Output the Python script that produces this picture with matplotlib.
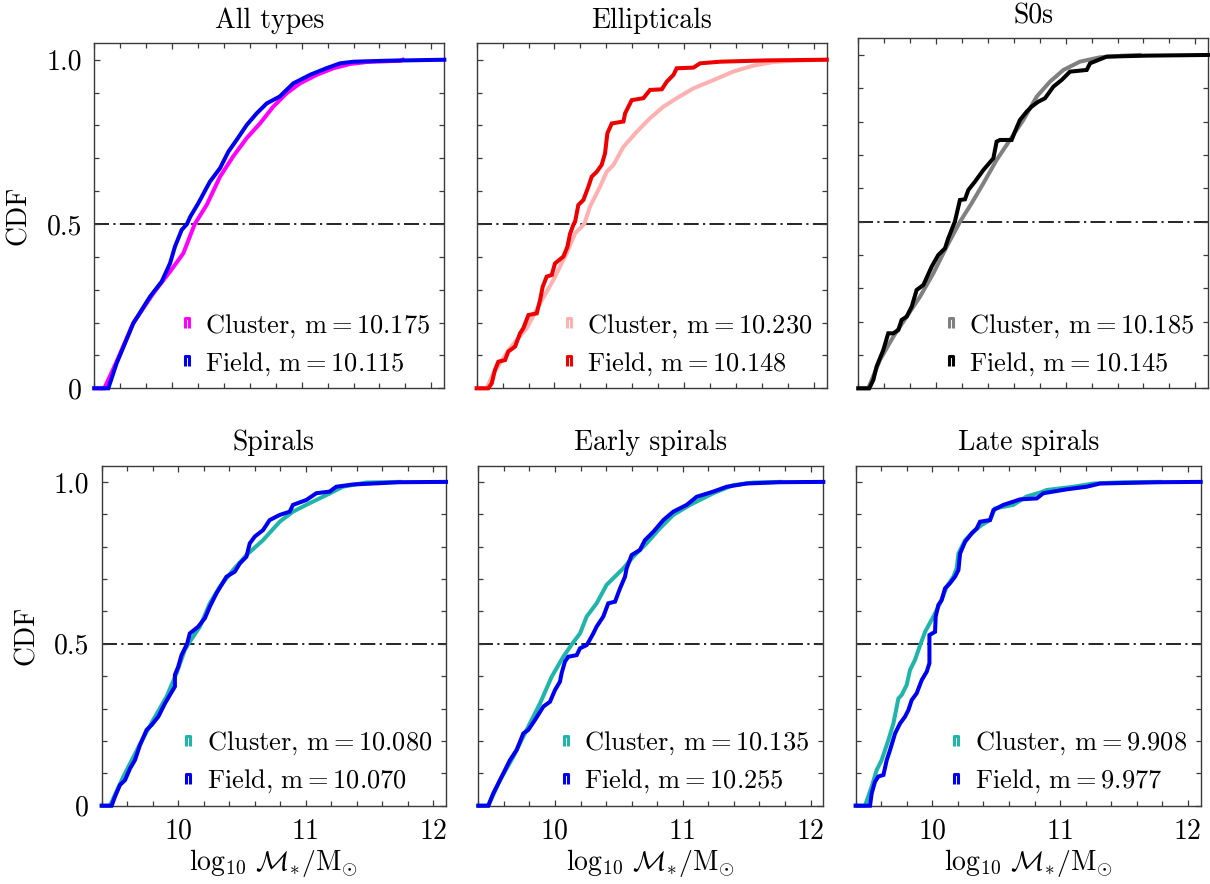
import matplotlib
matplotlib.use("Agg")
import matplotlib.pyplot as plt
from matplotlib.lines import Line2D
from matplotlib.path import Path
from matplotlib.ticker import MultipleLocator, FixedLocator

plt.rcParams.update({
    "font.family": "serif",
    "font.serif": ["cmr10"],
    "mathtext.fontset": "cm",
    "axes.unicode_minus": False,
    "axes.formatter.use_mathtext": True,
    "font.size": 19,
})

# ---------------------------------------------------------------- data
panel_titles = ["All types", "Ellipticals", "S0s", "Spirals", "Early spirals", "Late spirals"]

# All types
all_cl_mass = [9.40, 9.477, 9.572, 9.70, 9.855, 9.984, 10.087, 10.175, 10.267, 10.37, 10.47, 10.575,
               10.678, 10.78, 10.884, 10.987, 11.116, 11.244, 11.373, 11.50, 11.76, 11.78]
all_cl_cdf = [0.0, 0.0, 0.081, 0.198, 0.289, 0.355, 0.411, 0.50, 0.558, 0.644, 0.705, 0.761,
              0.806, 0.857, 0.898, 0.928, 0.954, 0.974, 0.987, 0.993, 0.997, 1.0]
all_fd_mass = [9.40, 9.508, 9.572, 9.701, 9.83, 9.92, 9.984, 10.022, 10.074, 10.115, 10.14, 10.202,
               10.292, 10.37, 10.434, 10.498, 10.575, 10.653, 10.73, 10.83, 10.935, 11.064, 11.19,
               11.296, 11.40, 11.656, 12.10]
all_fd_cdf = [0.0, 0.0, 0.076, 0.198, 0.279, 0.325, 0.380, 0.431, 0.482, 0.50, 0.522, 0.563,
              0.629, 0.670, 0.720, 0.756, 0.801, 0.837, 0.867, 0.888, 0.928, 0.954, 0.974,
              0.989, 0.994, 0.997, 1.0]
all_cl_median = 10.175
all_fd_median = 10.115

# Ellipticals
ell_cl_mass = [9.40, 9.477, 9.529, 9.657, 9.786, 9.889, 9.992, 10.094, 10.159, 10.23, 10.274, 10.352,
               10.403, 10.455, 10.532, 10.635, 10.737, 10.84, 10.943, 11.072, 11.226, 11.38, 11.534,
               11.689, 11.843, 12.10]
ell_cl_cdf = [0.0, 0.0, 0.046, 0.122, 0.183, 0.259, 0.330, 0.411, 0.472, 0.50, 0.553, 0.614,
              0.659, 0.680, 0.735, 0.781, 0.822, 0.857, 0.883, 0.913, 0.938, 0.964, 0.982,
              0.993, 0.997, 1.0]
ell_fd_mass = [9.40, 9.49, 9.516, 9.541, 9.567, 9.619, 9.644, 9.696, 9.734, 9.76, 9.799, 9.863, 9.889,
               9.909, 9.94, 9.979, 10.004, 10.069, 10.10, 10.12, 10.148, 10.159, 10.184, 10.223,
               10.262, 10.287, 10.326, 10.364, 10.39, 10.408, 10.442, 10.532, 10.545, 10.596,
               10.686, 10.737, 10.828, 10.866, 10.918, 10.943, 11.072, 11.123, 11.277, 11.637, 12.10]
ell_fd_cdf = [0.0, 0.0, 0.015, 0.056, 0.081, 0.086, 0.112, 0.127, 0.167, 0.183, 0.223, 0.228, 0.269,
              0.309, 0.340, 0.345, 0.380, 0.401, 0.431, 0.470, 0.50, 0.507, 0.558, 0.573,
              0.614, 0.644, 0.659, 0.680, 0.715, 0.776, 0.806, 0.812, 0.837, 0.877,
              0.883, 0.908, 0.910, 0.933, 0.954, 0.974, 0.976, 0.989, 0.994, 0.998, 1.0]
ell_cl_median = 10.230
ell_fd_median = 10.148

# S0s
s0_cl_mass = [9.40, 9.477, 9.567, 9.67, 9.773, 9.876, 9.979, 10.082, 10.185, 10.274, 10.365, 10.467,
              10.57, 10.673, 10.776, 10.879, 10.982, 11.11, 11.265, 11.445, 11.57]
s0_cl_cdf = [0.0, 0.0, 0.085, 0.155, 0.215, 0.275, 0.345, 0.425, 0.50, 0.555, 0.615, 0.685,
             0.745, 0.805, 0.875, 0.920, 0.955, 0.980, 0.993, 0.998, 1.0]
s0_fd_mass = [9.40, 9.485, 9.516, 9.541, 9.593, 9.631, 9.67, 9.709, 9.734, 9.773, 9.812, 9.85, 9.902,
              9.966, 10.017, 10.069, 10.094, 10.145, 10.184, 10.223, 10.249, 10.30, 10.365, 10.442,
              10.467, 10.493, 10.583, 10.608, 10.647, 10.699, 10.737, 10.789, 10.84, 10.905,
              10.969, 11.033, 11.162, 11.188, 11.316, 11.625, 12.10]
s0_fd_cdf = [0.0, 0.0, 0.025, 0.065, 0.115, 0.165, 0.165, 0.175, 0.205, 0.215, 0.245, 0.295, 0.310,
             0.365, 0.400, 0.420, 0.450, 0.50, 0.565, 0.567, 0.595, 0.620, 0.655, 0.690,
             0.740, 0.745, 0.745, 0.770, 0.805, 0.830, 0.845, 0.860, 0.870, 0.905,
             0.925, 0.950, 0.955, 0.975, 0.995, 0.998, 1.0]
s0_cl_median = 10.185
s0_fd_median = 10.145

# Spirals
sp_cl_mass = [9.40, 9.465, 9.57, 9.70, 9.804, 9.909, 9.987, 10.052, 10.08, 10.17, 10.248, 10.326,
              10.43, 10.535, 10.665, 10.796, 10.90, 11.004, 11.161, 11.291, 11.474, 11.735]
sp_cl_cdf = [0.0, 0.0, 0.090, 0.190, 0.265, 0.337, 0.409, 0.481, 0.50, 0.553, 0.625, 0.676,
             0.728, 0.774, 0.820, 0.877, 0.908, 0.929, 0.959, 0.985, 0.998, 1.0]
sp_fd_mass = [9.40, 9.478, 9.504, 9.543, 9.583, 9.622, 9.661, 9.70, 9.752, 9.791, 9.844, 9.896, 9.935,
              9.974, 9.974, 10.0, 10.026, 10.07, 10.091, 10.157, 10.209, 10.248, 10.30, 10.378,
              10.444, 10.483, 10.535, 10.561, 10.60, 10.665, 10.717, 10.796, 10.874, 10.90,
              11.004, 11.083, 11.187, 11.239, 11.37, 11.735, 12.10]
sp_fd_cdf = [0.0, 0.0, 0.028, 0.064, 0.079, 0.115, 0.141, 0.187, 0.234, 0.249, 0.275, 0.316, 0.342,
             0.368, 0.404, 0.429, 0.465, 0.50, 0.532, 0.553, 0.579, 0.615, 0.656, 0.707,
             0.723, 0.748, 0.769, 0.810, 0.831, 0.851, 0.882, 0.898, 0.908, 0.929,
             0.944, 0.965, 0.970, 0.985, 0.992, 0.999, 1.0]
sp_cl_median = 10.080
sp_fd_median = 10.070

# Early spirals
es_cl_mass = [9.40, 9.478, 9.57, 9.674, 9.778, 9.883, 9.974, 10.065, 10.135, 10.196, 10.248, 10.326,
              10.404, 10.535, 10.613, 10.717, 10.822, 10.926, 11.057, 11.239, 11.396, 11.552, 11.761]
es_cl_cdf = [0.0, 0.0, 0.079, 0.151, 0.234, 0.316, 0.398, 0.460, 0.50, 0.532, 0.584, 0.625,
             0.682, 0.733, 0.769, 0.810, 0.857, 0.898, 0.929, 0.965, 0.990, 0.998, 1.0]
es_fd_mass = [9.40, 9.478, 9.517, 9.557, 9.596, 9.648, 9.70, 9.752, 9.791, 9.844, 9.909, 9.961, 10.0,
              10.039, 10.052, 10.078, 10.104, 10.17, 10.196, 10.248, 10.255, 10.30, 10.326, 10.378,
              10.417, 10.47, 10.509, 10.548, 10.561, 10.60, 10.665, 10.704, 10.77, 10.848,
              10.926, 11.031, 11.109, 11.239, 11.344, 11.50, 11.761, 12.10]
es_fd_cdf = [0.0, 0.0, 0.038, 0.069, 0.100, 0.141, 0.172, 0.223, 0.234, 0.265, 0.306, 0.321, 0.357,
             0.383, 0.409, 0.445, 0.460, 0.465, 0.486, 0.496, 0.50, 0.532, 0.553, 0.584,
             0.625, 0.630, 0.671, 0.707, 0.733, 0.774, 0.790, 0.820, 0.846, 0.882,
             0.908, 0.929, 0.954, 0.970, 0.985, 0.995, 0.999, 1.0]
es_cl_median = 10.135
es_fd_median = 10.255

# Late spirals
ls_cl_mass = [9.40, 9.473, 9.525, 9.564, 9.603, 9.656, 9.695, 9.734, 9.76, 9.799, 9.825, 9.864, 9.908,
              9.943, 10.008, 10.06, 10.112, 10.164, 10.19, 10.204, 10.256, 10.321, 10.386, 10.451,
              10.49, 10.634, 10.738, 10.843, 10.895, 11.104, 11.26, 11.495, 11.78]
ls_cl_cdf = [0.0, 0.0, 0.059, 0.110, 0.141, 0.203, 0.254, 0.331, 0.342, 0.373, 0.419, 0.450, 0.50,
             0.537, 0.584, 0.625, 0.676, 0.707, 0.733, 0.779, 0.820, 0.846, 0.867, 0.882,
             0.918, 0.929, 0.955, 0.967, 0.975, 0.985, 0.995, 0.999, 1.0]
ls_fd_mass = [9.40, 9.512, 9.525, 9.551, 9.577, 9.617, 9.643, 9.669, 9.708, 9.747, 9.786, 9.812, 9.838,
              9.877, 9.917, 9.956, 9.977, 9.977, 9.977, 10.021, 10.026, 10.047, 10.073, 10.099,
              10.138, 10.177, 10.204, 10.217, 10.256, 10.308, 10.347, 10.373, 10.451, 10.478,
              10.556, 10.634, 10.686, 10.817, 10.869, 11.051, 11.208, 11.312, 11.782, 12.10]
ls_fd_cdf = [0.0, 0.0, 0.038, 0.074, 0.090, 0.095, 0.141, 0.172, 0.223, 0.254, 0.275, 0.295, 0.326,
             0.347, 0.388, 0.414, 0.440, 0.50, 0.527, 0.537, 0.584, 0.620, 0.635, 0.671,
             0.687, 0.707, 0.728, 0.779, 0.815, 0.841, 0.856, 0.877, 0.882, 0.913,
             0.929, 0.939, 0.946, 0.949, 0.965, 0.977, 0.985, 0.995, 0.999, 1.0]
ls_cl_median = 9.908
ls_fd_median = 9.977

# ---------------------------------------------------------------- styling
BLUE = "#0000f0"
TEAL = "#1fb5ab"
panels = [
    (all_cl_mass, all_cl_cdf, all_cl_median, "#ff00ff", all_fd_mass, all_fd_cdf, all_fd_median, BLUE),
    (ell_cl_mass, ell_cl_cdf, ell_cl_median, "#ffb0b0", ell_fd_mass, ell_fd_cdf, ell_fd_median, "#ee0000"),
    (s0_cl_mass, s0_cl_cdf, s0_cl_median, "#808080", s0_fd_mass, s0_fd_cdf, s0_fd_median, "#000000"),
    (sp_cl_mass, sp_cl_cdf, sp_cl_median, TEAL, sp_fd_mass, sp_fd_cdf, sp_fd_median, BLUE),
    (es_cl_mass, es_cl_cdf, es_cl_median, TEAL, es_fd_mass, es_fd_cdf, es_fd_median, BLUE),
    (ls_cl_mass, ls_cl_cdf, ls_cl_median, TEAL, ls_fd_mass, ls_fd_cdf, ls_fd_median, BLUE),
]

W, H = 1210, 884
# panel frames in pixels: (left, top, right, bottom)
frames = [
    (94.3, 43.3, 444.3, 388.3),
    (476.7, 43.3, 826.7, 388.3),
    (858.3, 38.3, 1208.3, 388.3),
    (101.7, 465.7, 446.0, 805.7),
    (478.3, 465.7, 823.3, 805.7),
    (855.7, 465.7, 1200.7, 805.7),
]

# small open-bottomed box used as the legend key
key_marker = Path([(-0.55, -1.0), (-0.55, 1.0), (0.55, 1.0), (0.55, -1.0)],
                  [Path.MOVETO, Path.LINETO, Path.LINETO, Path.LINETO])

fig = plt.figure(figsize=(W / 100, H / 100), dpi=100)
FRAME = "#3a3a3a"

for i, (title, frame, p) in enumerate(zip(panel_titles, frames, panels)):
    l, t, r, b = frame
    ax = fig.add_axes([l / W, 1 - b / H, (r - l) / W, (b - t) / H])
    cx, cy, cm, cc, fx, fy, fm, fc = p

    ax.axhline(0.5, color="black", lw=1.2, ls=(0, (9, 2.6, 1.3, 2.6)), zorder=1)
    ax.plot(cx, cy, color=cc, lw=2.9, solid_joinstyle="miter", zorder=2, clip_on=False)
    ax.plot(fx, fy, color=fc, lw=2.9, solid_joinstyle="miter", zorder=3, clip_on=False)

    ax.set_xlim(9.4, 12.1)
    ax.set_ylim(0, 1.05)
    ax.set_title(title, pad=11, fontsize=20)

    ax.xaxis.set_major_locator(FixedLocator([10, 11, 12]))
    ax.xaxis.set_minor_locator(MultipleLocator(0.2))
    ax.yaxis.set_major_locator(FixedLocator([0, 0.5, 1.0]))
    ax.yaxis.set_minor_locator(MultipleLocator(0.1))
    ax.tick_params(which="both", direction="in", top=True, right=True, color=FRAME, width=0.9,
                   labelsize=20)
    ax.tick_params(which="major", length=4.5)
    ax.tick_params(which="minor", length=3.5)
    ax.tick_params(axis="x", pad=9)
    ax.tick_params(axis="y", pad=9)
    for s in ax.spines.values():
        s.set_color(FRAME)
        s.set_linewidth(1.0)

    if i % 3 == 0:
        ax.set_yticklabels(["0", "0.5", "1.0"])
        ax.set_ylabel("CDF", labelpad=10, fontsize=20)
    else:
        ax.set_yticklabels([])
    if i >= 3:
        ax.set_xticklabels(["10", "11", "12"])
        ax.set_xlabel(r"$\log_{10}\,\mathcal{M}_{*}/\mathrm{M}_{\odot}$", labelpad=2, fontsize=20)
    else:
        ax.set_xticklabels([])

    handles = [
        Line2D([], [], ls="none", marker=key_marker, markersize=6.5, fillstyle="none",
               markeredgewidth=2.2, color=cc),
        Line2D([], [], ls="none", marker=key_marker, markersize=6.5, fillstyle="none",
               markeredgewidth=2.2, color=fc),
    ]
    labels = [
        r"$\mathrm{Cluster,\,m = %.3f}$" % cm,
        r"$\mathrm{Field,\,m = %.3f}$" % fm,
    ]
    ax.legend(handles, labels, loc="lower right", bbox_to_anchor=(0.99, 0.0), frameon=False,
              handlelength=0.4, handletextpad=0.5, labelspacing=0.4, borderaxespad=0.0,
              fontsize=19)

fig.savefig("out.png", dpi=100)
